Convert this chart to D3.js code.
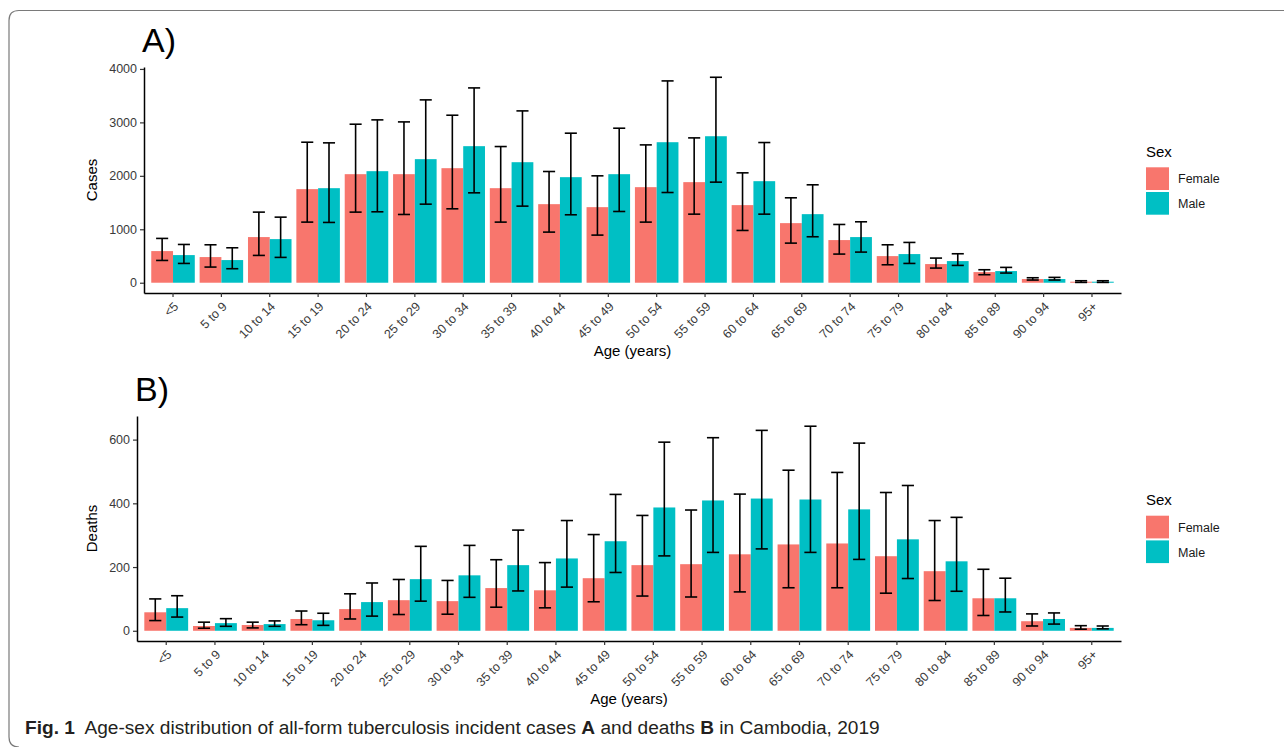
<!DOCTYPE html>
<html lang="en">
<head>
<meta charset="UTF-8">
<title>Age-sex distribution of TB cases and deaths, Cambodia 2019</title>
<script src="https://d3js.org/d3.v7.min.js"></script>
<style>
  body { margin: 0; padding: 0; background: #fff; }
  svg { display: block; font-family: "Liberation Sans", Arial, sans-serif; }
  .tick-label { font-size: 12.5px; fill: #3a3a3a; }
  .axis-title { font-size: 15px; fill: #000; }
  .panel-tag { font-size: 34px; fill: #000; }
  .legend-title { font-size: 15px; fill: #000; }
  .legend-label { font-size: 12.5px; fill: #1a1a1a; }
</style>
</head>
<body>
<div id="chart"></div>
<script>
const ageGroups = ["<5", "5 to 9", "10 to 14", "15 to 19", "20 to 24", "25 to 29", "30 to 34",
  "35 to 39", "40 to 44", "45 to 49", "50 to 54", "55 to 59", "60 to 64", "65 to 69",
  "70 to 74", "75 to 79", "80 to 84", "85 to 89", "90 to 94", "95+"];
const sexes = ["Female", "Male"];
const sexColors = ["#F8766D", "#00BFC4"];

// A) incident cases
const casesFemale   = [592, 480, 854, 1751, 2031, 2031, 2143, 1769, 1470, 1414, 1788, 1882, 1452, 1115, 798, 498, 349, 199, 69, 19];
const casesFemaleLo = [417, 293, 511, 1134, 1321, 1277, 1383, 1134, 947, 891, 1134, 1283, 978, 741, 536, 336, 274, 150, 50, 6];
const casesFemaleHi = [829, 710, 1321, 2629, 2966, 3009, 3134, 2548, 2081, 2000, 2579, 2710, 2056, 1589, 1090, 710, 461, 243, 93, 37];
const casesMale     = [517, 424, 816, 1769, 2087, 2312, 2555, 2255, 1975, 2031, 2629, 2741, 1900, 1283, 854, 536, 405, 218, 69, 19];
const casesMaleLo   = [361, 262, 474, 1128, 1327, 1470, 1682, 1433, 1271, 1333, 1688, 1882, 1283, 860, 573, 361, 324, 181, 50, 6];
const casesMaleHi   = [716, 654, 1227, 2617, 3047, 3421, 3645, 3215, 2798, 2891, 3776, 3844, 2623, 1832, 1140, 754, 542, 287, 100, 37];
const casesTicks = [0, 1000, 2000, 3000, 4000];

// B) deaths
const deathsFemale   = [58, 15, 18, 37, 68, 96, 93, 134, 127, 165, 206, 209, 240, 271, 274, 234, 187, 102, 30, 9];
const deathsFemaleLo = [32, 8, 9, 19, 37, 51, 52, 74, 72, 91, 109, 106, 122, 135, 135, 118, 95, 48, 15, 5];
const deathsFemaleHi = [100, 27, 27, 62, 116, 161, 158, 223, 214, 302, 362, 379, 429, 504, 497, 434, 346, 193, 53, 16];
const deathsMale     = [71, 24, 21, 33, 90, 162, 174, 206, 227, 281, 387, 409, 415, 412, 381, 287, 218, 102, 37, 9];
const deathsMaleLo   = [43, 14, 14, 17, 46, 93, 105, 125, 137, 183, 235, 246, 257, 246, 224, 164, 124, 59, 21, 6];
const deathsMaleHi   = [110, 38, 31, 55, 150, 265, 268, 316, 346, 428, 592, 606, 629, 642, 589, 456, 356, 165, 56, 15];
const deathsTicks = [0, 200, 400, 600];

const W = 1284, H = 747;
const svg = d3.select("#chart").append("svg").attr("width", W).attr("height", H);

// figure frame (rounded, open to the right/bottom like the journal page)
svg.append("path")
  .attr("d", `M${W + 5},10.5 H19 Q9,10.5 9,20.5 V737 Q9,747 19,747`)
  .attr("fill", "none").attr("stroke", "#7a7a7a").attr("stroke-width", 1.2);

function rows(v, lo, hi) {
  return ageGroups.map((g, i) => [
    { age: g, sex: "Female", value: v.female[i], lo: lo.female[i], hi: hi.female[i] },
    { age: g, sex: "Male", value: v.male[i], lo: lo.male[i], hi: hi.male[i] }
  ]).flat();
}

function drawPanel(p) {
  const g = svg.append("g");
  const x = d3.scaleBand().domain(ageGroups).range([p.left, p.right])
    .paddingInner(0.1).paddingOuter(0.15);
  const xs = d3.scaleBand().domain(sexes).range([0, x.bandwidth()]);
  const color = d3.scaleOrdinal().domain(sexes).range(sexColors);
  const maxV = d3.max(p.data, d => d.hi);
  const y = d3.scaleLinear().domain([-0.05 * maxV, 1.05 * maxV]).range([p.bottom, p.top]);
  const step = x.step();

  // bars
  g.selectAll("rect.bar").data(p.data).join("rect")
    .attr("class", "bar")
    .attr("x", d => x(d.age) + xs(d.sex))
    .attr("width", xs.bandwidth())
    .attr("y", d => y(d.value))
    .attr("height", d => y(0) - y(d.value))
    .attr("fill", d => color(d.sex));

  // error bars
  const eb = g.selectAll("g.eb").data(p.data).join("g").attr("class", "eb")
    .attr("transform", d => `translate(${x(d.age) + xs(d.sex) + xs.bandwidth() / 2},0)`)
    .attr("stroke", "#000").attr("stroke-width", 1.6);
  eb.append("line").attr("y1", d => y(d.lo)).attr("y2", d => y(d.hi));
  eb.append("line").attr("x1", -step * 0.125).attr("x2", step * 0.125)
    .attr("y1", d => y(d.hi)).attr("y2", d => y(d.hi));
  eb.append("line").attr("x1", -step * 0.125).attr("x2", step * 0.125)
    .attr("y1", d => y(d.lo)).attr("y2", d => y(d.lo));

  // axes
  const xAxis = g.append("g").attr("transform", `translate(0,${p.bottom})`)
    .call(d3.axisBottom(x).tickSize(4).tickPadding(6).tickSizeOuter(0));
  const yAxis = g.append("g").attr("transform", `translate(${p.left},0)`)
    .call(d3.axisLeft(y).tickValues(p.ticks).tickFormat(d3.format("d"))
      .tickSize(4).tickPadding(3).tickSizeOuter(0));
  [xAxis, yAxis].forEach(a => {
    a.select(".domain").attr("stroke", "#000").attr("stroke-width", 1.5);
    a.selectAll(".tick line").attr("stroke", "#333").attr("stroke-width", 1.2);
    a.selectAll(".tick text").attr("class", "tick-label").attr("font-family", null).attr("font-size", null);
  });
  xAxis.selectAll(".tick text")
    .attr("text-anchor", "end")
    .attr("y", 0).attr("dy", "0.71em")
    .attr("transform", "translate(0,8) rotate(-45)");

  // titles
  g.append("text").attr("class", "axis-title")
    .attr("x", (p.left + p.right) / 2).attr("y", p.bottom + 63)
    .attr("text-anchor", "middle").text("Age (years)");
  g.append("text").attr("class", "axis-title")
    .attr("transform", `translate(97,${(p.top + p.bottom) / 2}) rotate(-90)`)
    .attr("text-anchor", "middle").text(p.yTitle);
  g.append("text").attr("class", "panel-tag")
    .attr("x", p.left - 2).attr("y", p.top - 15).text(p.tag);

  // legend
  const lg = g.append("g").attr("transform", `translate(1146,${p.legendTop})`);
  lg.append("text").attr("class", "legend-title").attr("x", 0).attr("y", -10.5).text("Sex");
  const item = lg.selectAll("g.item").data(sexes).join("g").attr("class", "item")
    .attr("transform", (d, i) => `translate(0,${i * 24.7})`);
  item.append("rect").attr("width", 23).attr("height", 22.7).attr("fill", d => color(d));
  item.append("text").attr("class", "legend-label").attr("x", 32).attr("y", 16.2).text(d => d);
}

drawPanel({
  tag: "A)", yTitle: "Cases", left: 144, right: 1121, top: 67, bottom: 293,
  ticks: casesTicks, legendTop: 167.3,
  data: rows({ female: casesFemale, male: casesMale },
             { female: casesFemaleLo, male: casesMaleLo },
             { female: casesFemaleHi, male: casesMaleHi })
});

drawPanel({
  tag: "B)", yTitle: "Deaths", left: 137, right: 1121, top: 416, bottom: 641,
  ticks: deathsTicks, legendTop: 515.7,
  data: rows({ female: deathsFemale, male: deathsMale },
             { female: deathsFemaleLo, male: deathsMaleLo },
             { female: deathsFemaleHi, male: deathsMaleHi })
});

// caption (condensed to the width of the journal caption)
const cap = svg.append("text").attr("x", 25).attr("y", 734)
  .attr("font-size", 19).attr("fill", "#231f20");
cap.append("tspan").attr("font-weight", "bold").text("Fig. 1");
cap.append("tspan").text("\u2002Age-sex distribution of all-form tuberculosis incident cases ");
cap.append("tspan").attr("font-weight", "bold").text("A");
cap.append("tspan").text(" and deaths ");
cap.append("tspan").attr("font-weight", "bold").text("B");
cap.append("tspan").text(" in Cambodia, 2019");
const capLen = cap.node().getComputedTextLength();
cap.attr("transform", `translate(25,0) scale(${855 / capLen},1) translate(-25,0)`);
</script>
</body>
</html>
